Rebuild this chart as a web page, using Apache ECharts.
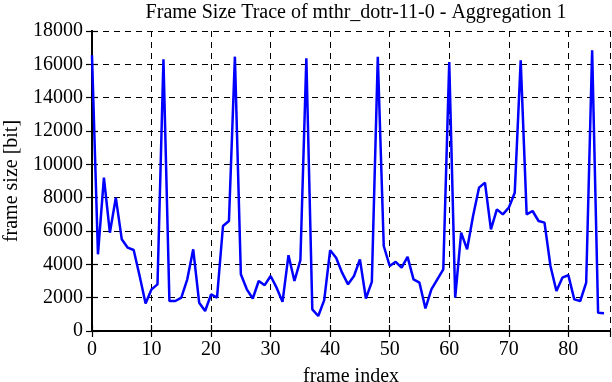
<!DOCTYPE html>
<html><head><meta charset="utf-8">
<script src="https://cdn.jsdelivr.net/npm/echarts@6/dist/echarts.min.js"></script>
<style>html,body{margin:0;padding:0;background:#fff}#c{width:612px;height:382px}</style>
</head><body><div id="c"></div>
<script>
const titleText = 'Frame Size Trace of mthr_dotr-11-0 - Aggregation 1';
const xLabel = 'frame index';
const yLabel = 'frame size [bit]';
const frameIndex = [];
for (let i = 0; i <= 86; i++) frameIndex.push(i);
const frameSize = [
 16540, 4600, 9200, 5900, 8000, 5500, 5000, 4860, 3300, 1650,
 2500, 2800, 16300, 1800, 1800, 2000, 3100, 4900, 1700, 1200,
 2200, 2000, 6300, 6600, 16460, 3400, 2500, 1950, 3000, 2750,
 3300, 2600, 1750, 4550, 3000, 4250, 16360, 1300, 900, 1850,
 4850, 4400, 3500, 2800, 3300, 4300, 1950, 2950, 16460, 5100,
 3900, 4150, 3800, 4450, 3100, 2900, 1350, 2500, 3100, 3700,
 16140, 2000, 5900, 4900, 6900, 8600, 8900, 6100, 7300, 7000,
 7400, 8300, 16240, 7000, 7200, 6600, 6500, 3900, 2400, 3200,
 3350, 1900, 1800, 2900, 16840, 1100, 1060
];
const font = 'Liberation Serif';
const fs = 20;
const chart = echarts.init(document.getElementById('c'));
const gridLine = {show: true, lineStyle: {color: '#000', width: 1, type: [6, 5]}};
const tick = {show: true, inside: true, length: 6, lineStyle: {color: '#000', width: 1.2}};
const axLine = {show: true, lineStyle: {color: '#000', width: 2}};
chart.setOption({
  animation: false,
  title: {text: titleText, left: 351, top: -2, textAlign: 'center',
    textStyle: {fontFamily: font, fontSize: fs, fontWeight: 'normal', color: '#000'}},
  grid: {left: 92, right: 2, top: 31, bottom: 51, containLabel: false, outerBoundsMode: 'none'},
  xAxis: [{
    type: 'value', min: 0, max: 87, interval: 10,
    name: xLabel, nameLocation: 'middle', nameGap: 36,
    nameTextStyle: {fontFamily: font, fontSize: fs, color: '#000'},
    axisLine: axLine, axisTick: tick,
    axisLabel: {fontFamily: font, fontSize: fs, color: '#000', margin: 9, showMaxLabel: false},
    splitLine: gridLine
  }, {
    type: 'value', position: 'top', min: 0, max: 87, interval: 10,
    axisLine: axLine, axisTick: tick,
    axisLabel: {show: false}, splitLine: {show: false}
  }],
  yAxis: [{
    type: 'value', min: 0, max: 18000, interval: 2000,
    name: yLabel, nameLocation: 'middle', nameGap: 70, nameRotate: 90,
    nameTextStyle: {fontFamily: font, fontSize: fs, color: '#000'},
    axisLine: axLine, axisTick: tick,
    axisLabel: {fontFamily: font, fontSize: fs, color: '#000', margin: 9, formatter: v => String(v)},
    splitLine: gridLine
  }, {
    type: 'value', position: 'right', min: 0, max: 18000, interval: 2000,
    axisLine: axLine, axisTick: tick,
    axisLabel: {show: false}, splitLine: {show: false}
  }],
  series: [{
    type: 'line', xAxisIndex: 0, yAxisIndex: 0,
    data: frameIndex.map((x, i) => [x, frameSize[i]]),
    showSymbol: false, symbol: 'none',
    lineStyle: {color: '#0000ff', width: 2.5},
    z: 5
  }]
});
</script></body></html>
